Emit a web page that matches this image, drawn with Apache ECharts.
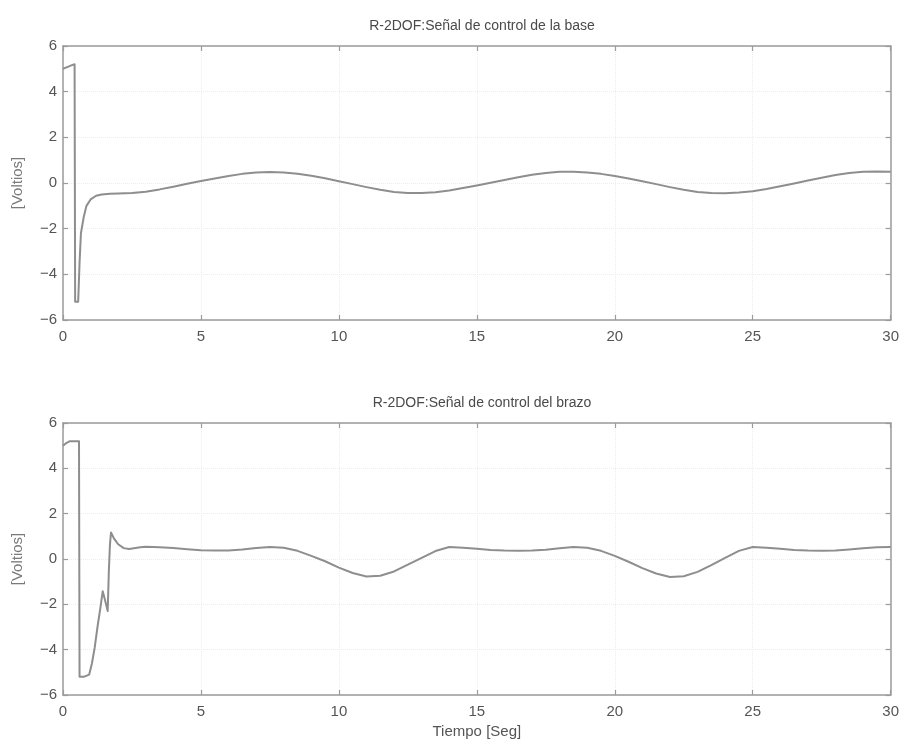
<!DOCTYPE html>
<html>
<head>
<meta charset="utf-8">
<title>R-2DOF</title>
<script src="https://cdn.jsdelivr.net/npm/echarts@6/dist/echarts.min.js"></script>
<style>
  html, body { margin: 0; padding: 0; background: #ffffff; }
  #chart { width: 902px; height: 747px; }
</style>
</head>
<body>
<div id="chart"></div>
<script>
// Control signal of the base joint: time [s] and voltage [V]
const baseTime = [0, 0.1, 0.2, 0.3, 0.42, 0.44, 0.55, 0.6, 0.65, 0.75, 0.85, 1.0, 1.2, 1.4, 1.7,
  2.0, 2.5, 3.0, 3.5, 4.0, 4.5, 5.0, 5.5, 6.0, 6.5, 7.0, 7.5, 8.0, 8.5, 9.0, 9.5,
  10.0, 10.5, 11.0, 11.5, 12.0, 12.5, 13.0, 13.5, 14.0, 14.5, 15.0, 15.5, 16.0, 16.5,
  17.0, 17.5, 18.0, 18.5, 19.0, 19.5, 20.0, 20.5, 21.0, 21.5, 22.0, 22.5, 23.0, 23.5,
  24.0, 24.5, 25.0, 25.5, 26.0, 26.5, 27.0, 27.5, 28.0, 28.5, 29.0, 29.5, 30.0];
const baseVolts = [5.0, 5.05, 5.1, 5.15, 5.2, -5.2, -5.2, -3.5, -2.2, -1.5, -1.0, -0.72, -0.56, -0.5, -0.47,
  -0.46, -0.44, -0.38, -0.28, -0.16, -0.03, 0.09, 0.2, 0.31, 0.4, 0.46, 0.48, 0.46, 0.41, 0.32, 0.21,
  0.08, -0.05, -0.18, -0.3, -0.39, -0.44, -0.44, -0.4, -0.33, -0.22, -0.11, 0.01, 0.13, 0.25,
  0.36, 0.44, 0.49, 0.49, 0.46, 0.4, 0.31, 0.2, 0.08, -0.05, -0.18, -0.3, -0.39, -0.44,
  -0.45, -0.42, -0.36, -0.26, -0.14, -0.02, 0.11, 0.23, 0.35, 0.44, 0.49, 0.5, 0.49];

// Control signal of the arm joint: time [s] and voltage [V]
const armTime = [0, 0.1, 0.25, 0.58, 0.6, 0.75, 0.95, 1.05, 1.15, 1.25, 1.35, 1.44, 1.52, 1.62, 1.66, 1.7, 1.74,
  1.85, 2.0, 2.2, 2.4, 2.8, 3.0, 3.5, 4.0, 4.5, 5.0, 5.5, 6.0, 6.5, 7.0, 7.5, 8.0, 8.5, 9.0, 9.5,
  10.0, 10.5, 11.0, 11.5, 12.0, 12.5, 13.0, 13.5, 14.0, 14.5, 15.0, 15.5, 16.0, 16.5, 17.0, 17.5,
  18.0, 18.5, 19.0, 19.5, 20.0, 20.5, 21.0, 21.5, 22.0, 22.5, 23.0, 23.5, 24.0, 24.5, 25.0, 25.5,
  26.0, 26.5, 27.0, 27.5, 28.0, 28.5, 29.0, 29.5, 30.0];
const armVolts = [5.0, 5.1, 5.2, 5.2, -5.2, -5.2, -5.1, -4.6, -3.9, -3.0, -2.2, -1.42, -1.8, -2.3, -0.6, 0.6, 1.17,
  0.9, 0.65, 0.48, 0.44, 0.52, 0.54, 0.52, 0.48, 0.43, 0.39, 0.37, 0.38, 0.42, 0.48, 0.53, 0.5, 0.36, 0.14, -0.1,
  -0.38, -0.62, -0.77, -0.74, -0.55, -0.25, 0.05, 0.35, 0.53, 0.5, 0.45, 0.4, 0.37, 0.36, 0.37, 0.41,
  0.47, 0.53, 0.5, 0.36, 0.14, -0.12, -0.4, -0.64, -0.79, -0.76, -0.57, -0.27, 0.05, 0.36, 0.53, 0.5,
  0.45, 0.4, 0.37, 0.36, 0.38, 0.42, 0.47, 0.52, 0.53];

const titles = ['R-2DOF:Señal de control de la base', 'R-2DOF:Señal de control del brazo'];
const yName = '[Voltios]';
const xName = 'Tiempo [Seg]';
const xRange = [0, 30], xStep = 5;
const yRange = [-6, 6], yStep = 2;

const zip = (ts, vs) => ts.map((t, i) => [t, vs[i]]);
// typographic minus sign for negative tick values
const fmtTick = v => (v < 0 ? '\u2212' + Math.abs(v) : String(v));

const FONT = 'Liberation Sans, Arial, sans-serif';
const AXIS_COLOR = '#9b9b9b';
const TEXT_COLOR = '#555555';
const LINE_COLOR = '#8e8e8e';

const grids = [
  { left: 63, right: 11, top: 46, height: 274 },
  { left: 63, right: 11, top: 423, height: 272 }
];

function xAxisFor(gi, pos) {
  const bottom = pos === 'bottom';
  return {
    type: 'value', gridIndex: gi, position: pos,
    min: xRange[0], max: xRange[1], interval: xStep,
    name: (bottom && gi === 1) ? xName : '',
    nameLocation: 'middle', nameGap: 29,
    nameTextStyle: { fontFamily: FONT, fontSize: 15, color: TEXT_COLOR },
    axisLine: { show: true, onZero: false, lineStyle: { color: AXIS_COLOR, width: 1.5 } },
    axisTick: { show: true, inside: true, length: 5, lineStyle: { color: AXIS_COLOR, width: 1.2 } },
    axisLabel: { show: bottom, margin: 9, fontFamily: FONT, fontSize: 15, color: TEXT_COLOR, formatter: fmtTick },
    splitLine: { show: bottom, lineStyle: { color: '#eeeeee', type: 'dotted', width: 1 } }
  };
}

function yAxisFor(gi, pos) {
  const left = pos === 'left';
  return {
    type: 'value', gridIndex: gi, position: pos,
    min: yRange[0], max: yRange[1], interval: yStep,
    name: left ? yName : '',
    nameLocation: 'middle', nameGap: 38, nameRotate: 90,
    nameTextStyle: { fontFamily: FONT, fontSize: 15, color: '#7a7a7a' },
    axisLine: { show: true, onZero: false, lineStyle: { color: AXIS_COLOR, width: 1.5 } },
    axisTick: { show: true, inside: true, length: 5, lineStyle: { color: AXIS_COLOR, width: 1.2 } },
    axisLabel: { show: left, margin: 6, fontFamily: FONT, fontSize: 15, color: TEXT_COLOR, formatter: fmtTick },
    splitLine: { show: left, lineStyle: { color: '#eeeeee', type: 'dotted', width: 1 } }
  };
}

const chart = echarts.init(document.getElementById('chart'), null, { renderer: 'canvas' });
chart.setOption({
  animation: false,
  backgroundColor: '#ffffff',
  title: [
    { text: titles[0], left: 477, top: 14, textAlign: 'center',
      textStyle: { fontFamily: FONT, fontSize: 14, fontWeight: 'normal', color: '#4a4a4a' } },
    { text: titles[1], left: 477, top: 391, textAlign: 'center',
      textStyle: { fontFamily: FONT, fontSize: 14, fontWeight: 'normal', color: '#4a4a4a' } }
  ],
  grid: grids,
  xAxis: [xAxisFor(0, 'bottom'), xAxisFor(0, 'top'), xAxisFor(1, 'bottom'), xAxisFor(1, 'top')],
  yAxis: [yAxisFor(0, 'left'), yAxisFor(0, 'right'), yAxisFor(1, 'left'), yAxisFor(1, 'right')],
  series: [
    { type: 'line', xAxisIndex: 0, yAxisIndex: 0, data: zip(baseTime, baseVolts),
      showSymbol: false, smooth: false, lineStyle: { color: LINE_COLOR, width: 2, join: 'round' } },
    { type: 'line', xAxisIndex: 2, yAxisIndex: 2, data: zip(armTime, armVolts),
      showSymbol: false, smooth: false, lineStyle: { color: LINE_COLOR, width: 2, join: 'round' } }
  ]
});
</script>
</body>
</html>
